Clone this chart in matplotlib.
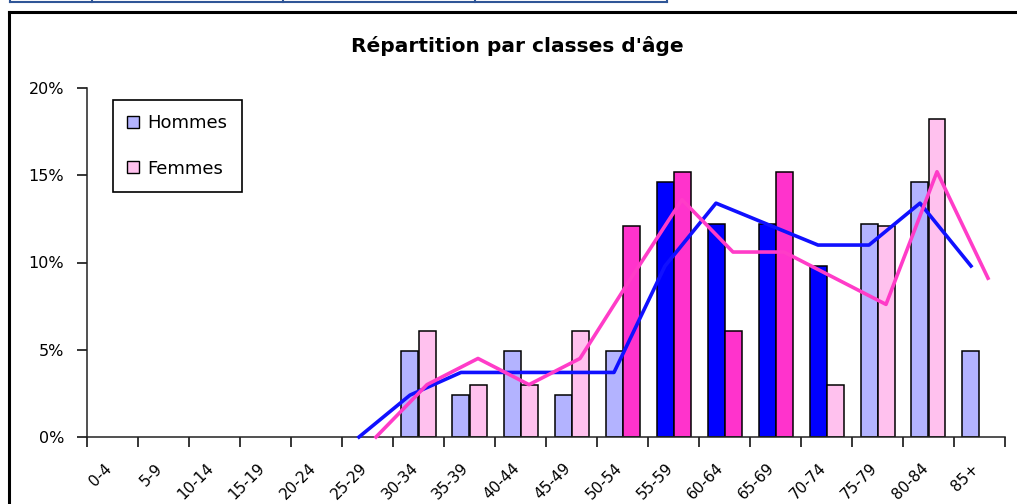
import matplotlib.pyplot as plt
import matplotlib.transforms as mtransforms
import numpy as np
from matplotlib.patches import Patch
from matplotlib.lines import Line2D

# Classes d'age et pourcentages
classes = ["0-4", "5-9", "10-14", "15-19", "20-24", "25-29", "30-34", "35-39",
           "40-44", "45-49", "50-54", "55-59", "60-64", "65-69", "70-74",
           "75-79", "80-84", "85+"]
hommes = [0, 0, 0, 0, 0, 0, 4.9, 2.4, 4.9, 2.4, 4.9, 14.6, 12.2, 12.2, 9.8, 12.2, 14.6, 4.9]
femmes = [0, 0, 0, 0, 0, 0, 6.1, 3.0, 3.0, 6.1, 12.1, 15.2, 6.1, 15.2, 3.0, 12.1, 18.2, 0]

# moyennes mobiles sur 2 periodes, a partir de 25-29
debut_moy = 5
moy_hommes = [0, 2.4, 3.7, 3.7, 3.7, 3.7, 9.8, 13.4, 12.2, 11.0, 11.0, 13.4, 9.8]
moy_femmes = [0, 3.0, 4.5, 3.0, 4.5, 9.1, 13.6, 10.6, 10.6, 9.1, 7.6, 15.2, 9.1]

# classes mises en couleur foncee
fonce_hommes = ["55-59", "60-64", "65-69", "70-74"]
fonce_femmes = ["50-54", "55-59", "60-64", "65-69"]

bleu_clair = "#B3B3FF"
bleu_fonce = "#0000FF"
rose_clair = "#FFC1EE"
rose_fonce = "#FF33CC"

fig = plt.figure(figsize=(10.17, 5.04), dpi=100)
ax = fig.add_axes([87 / 1017, 1 - 437 / 504, (1005 - 87) / 1017, (437 - 88) / 504])

n = len(classes)
x = np.arange(n)
larg = 1 / 3

for i in range(n):
    if hommes[i] > 0:
        c = bleu_fonce if classes[i] in fonce_hommes else bleu_clair
        ax.bar(x[i] + 0.5 - larg / 2, hommes[i], width=larg, color=c,
               edgecolor="black", linewidth=1.1, zorder=2)
    if femmes[i] > 0:
        c = rose_fonce if classes[i] in fonce_femmes else rose_clair
        ax.bar(x[i] + 0.5 + larg / 2, femmes[i], width=larg, color=c,
               edgecolor="black", linewidth=1.1, zorder=2)

xm = x[debut_moy:debut_moy + len(moy_hommes)]
ax.plot(xm + 0.5 - larg / 2, moy_hommes, color="#1010FF", linewidth=2.6,
        zorder=3, clip_on=False)
ax.plot(xm + 0.5 + larg / 2, moy_femmes, color="#FF3CC8", linewidth=2.6,
        zorder=3, clip_on=False)

ax.set_xlim(0, n)
ax.set_ylim(0, 20)
ax.set_yticks([0, 5, 10, 15, 20])
ax.set_yticklabels(["0%", "5%", "10%", "15%", "20%"])
ax.set_xticks(np.arange(n + 1))
ax.set_xticklabels([])
ax.set_xticks(x + 0.5, minor=True)
ax.set_xticklabels(classes, minor=True, rotation=45, ha="right",
                   rotation_mode="anchor")
ax.tick_params(axis="x", which="minor", length=0, pad=17, labelsize=11)
ax.tick_params(axis="x", which="major", length=7, width=1.1, direction="out")
ax.tick_params(axis="y", length=7, width=1.1, direction="out", labelsize=11.5, pad=9.5)

decal = mtransforms.ScaledTranslation(-6 / 72, 0, fig.dpi_scale_trans)
for lab in ax.get_xticklabels(minor=True):
    lab.set_transform(lab.get_transform() + decal)

for s in ["top", "right"]:
    ax.spines[s].set_visible(False)
for s in ["left", "bottom"]:
    ax.spines[s].set_linewidth(1.1)
    ax.spines[s].set_color("#222222")

fig.text(517 / 1017, 1 - 46 / 504, "Répartition par classes d'âge",
         ha="center", va="center", fontsize=14.5, fontweight="bold")

poignees = [Patch(facecolor=bleu_clair, edgecolor="black", linewidth=1.0),
            Patch(facecolor=rose_clair, edgecolor="black", linewidth=1.0)]
leg = fig.legend(poignees, ["Hommes", "Femmes"], loc="upper left",
                 bbox_to_anchor=(113 / 1017, 1 - 100 / 504), fontsize=13,
                 handlelength=0.65, handleheight=0.65, handletextpad=0.45,
                 labelspacing=1.5, borderpad=0.8, borderaxespad=0,
                 fancybox=False, framealpha=1, edgecolor="black")
leg.get_frame().set_linewidth(1.2)

# cadre du graphique et bord du tableau au-dessus
fig.add_artist(Line2D([9 / 1017, 1], [1 - 12 / 504, 1 - 12 / 504],
                      color="black", linewidth=2.2))
fig.add_artist(Line2D([9 / 1017, 9 / 1017], [0, 1 - 12 / 504],
                      color="black", linewidth=2.2))
fig.add_artist(Line2D([10 / 1017, 667 / 1017], [1 - 2 / 504, 1 - 2 / 504],
                      color="#2F5597", linewidth=1.5))
for xs in [10, 92, 283, 475, 667]:
    fig.add_artist(Line2D([xs / 1017, xs / 1017], [1 - 2 / 504, 1],
                          color="#2F5597", linewidth=1.5))

fig.savefig("out.png", dpi=100)
